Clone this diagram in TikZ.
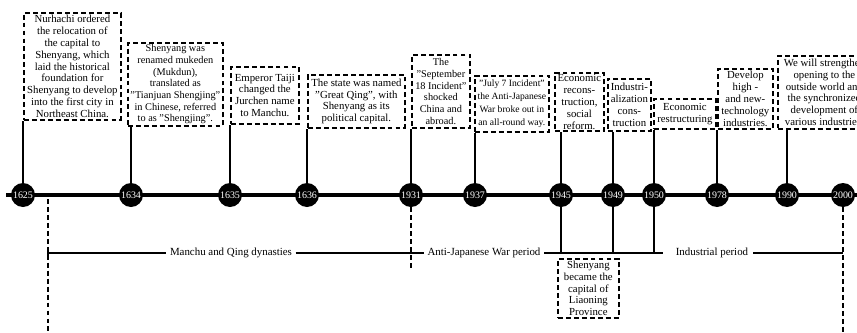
\documentclass[tikz,border=0pt]{standalone}
\usepackage{fontspec}
\setmainfont{Liberation Serif}
\begin{document}
\begin{tikzpicture}[x=0.03cm, y=-0.03cm,
    evt/.style={draw, line width=1.5pt, dash pattern=on 4.2pt off 2.6pt, align=center, inner xsep=0.5pt, inner ysep=1pt, anchor=north west, font=\fontsize{9.2}{10.1}\selectfont},
    yr/.style={circle, fill=black, text=white, minimum size=0.72cm, inner sep=0pt, font=\fontsize{8.5}{9}\selectfont},
    stem/.style={line width=1.6pt},
    era/.style={inner xsep=3pt, inner ysep=0pt, font=\fontsize{9.3}{10}\selectfont},
    eraline/.style={line width=1.5pt},
    gapline/.style={line width=1.5pt, dash pattern=on 4.2pt off 2.6pt}]
    \clip (0,0) rectangle (857,333);

    % time axis
    \coordinate (axl) at (6,195);
    \coordinate (axr) at (857,195);
    \draw[line width=3.8pt] (axl) -- (axr);

    \node[yr] (y1625) at (23,195) {1625};
    \node[yr] (y1634) at (131,195) {1634};
    \node[yr] (y1635) at (230,195) {1635};
    \node[yr] (y1636) at (307,195) {1636};
    \node[yr] (y1931) at (411,195) {1931};
    \node[yr] (y1937) at (475,195) {1937};
    \node[yr] (y1945) at (561,195) {1945};
    \node[yr] (y1949) at (613,195) {1949};
    \node[yr] (y1950) at (654,195) {1950};
    \node[yr] (y1978) at (717,195) {1978};
    \node[yr] (y1990) at (787,195) {1990};
    \node[yr] (y2000) at (843,195) {2000};

    % events
    \node[evt, minimum width=2.91cm, minimum height=3.21cm] (b1) at (23,12) {Nurhachi ordered\\the relocation of\\the capital to\\Shenyang, which\\laid the historical\\foundation for\\Shenyang to develop\\into the first city in\\Northeast China.};
    \node[evt, minimum width=2.85cm, minimum height=2.49cm, font=\fontsize{8.8}{10}\selectfont] (b2) at (127,42) {Shenyang was\\renamed mukeden\\(Mukdun),\\translated as\\"Tianjuan Shengjing"\\in Chinese, referred\\to as "Shengjing".};
    \node[evt, minimum width=2.04cm, minimum height=1.71cm] (b3) at (230,66) {Emperor Taiji\\changed the\\Jurchen name\\to Manchu.};
    \node[evt, minimum width=2.91cm, minimum height=1.59cm] (b4) at (307,74) {The state was named\\"Great Qing", with\\Shenyang as its\\political capital.};
    \node[evt, minimum width=1.74cm, minimum height=2.19cm, font=\fontsize{8.8}{10}\selectfont] (b5) at (411,54) {The\\"September\\18 Incident"\\shocked\\China and\\abroad.};
    \node[evt, minimum width=2.22cm, minimum height=1.68cm, font=\fontsize{8.2}{11.2}\selectfont] (b6) at (474,75) {"July 7 Incident"\\the Anti-Japanese\\War broke out in\\an all-round way.};
    \node[evt, minimum width=1.47cm, minimum height=1.74cm] (b7) at (554,72) {Economic\\recons-\\truction,\\social\\reform.};
    \node[evt, minimum width=1.29cm, minimum height=1.56cm] (b8) at (607,78) {Industri-\\alization\\cons-\\truction};
    \node[evt, minimum width=1.86cm, minimum height=0.90cm] (b9) at (653,98) {Economic\\restructuring};
    \node[evt, minimum width=1.65cm, minimum height=1.80cm] (b10) at (717,68) {Develop\\high -\\and new-\\technology\\industries.};
    \node[evt, minimum width=2.79cm, minimum height=2.19cm] (b11) at (777,55) {We will strengthen\\opening to the\\outside world and\\the synchronized\\development of\\various industries.};
    \node[evt, minimum width=1.83cm, minimum height=1.77cm] (b12) at (557,258) {Shenyang\\became the\\capital of\\Liaoning\\Province};

    % stems up
    \draw[stem] (y1625) -- (y1625 |- b1.south);
    \draw[stem] (y1634) -- (y1634 |- b2.south);
    \draw[stem] (y1635) -- (y1635 |- b3.south);
    \draw[stem] (y1636) -- (y1636 |- b4.south);
    \draw[stem] (y1931) -- (y1931 |- b5.south);
    \draw[stem] (y1937) -- (y1937 |- b6.south);
    \draw[stem] (y1945) -- (y1945 |- b7.south);
    \draw[stem] (y1949) -- (y1949 |- b8.south);
    \draw[stem] (y1950) -- (y1950 |- b9.south);
    \draw[stem] (y1978) -- (y1978 |- b10.south);
    \draw[stem] (y1990) -- (y1990 |- b11.south);

    % periods
    \coordinate (pl) at (48,253);
    \coordinate (pm) at (663,253);
    \coordinate (pr) at (843,253);
    \coordinate (dtop) at (48,199);
    \coordinate (dbot) at (48,333);
    \coordinate (d31) at (411,268);
    \node[era] (manchu) at (231,253) {Manchu and Qing dynasties};
    \node[era] (antij) at (484,253) {Anti-Japanese War period};
    \node[era, inner xsep=4pt] (indus) at (712,253) {Industrial period};

    \draw[eraline] (pl) -- (manchu.west);
    \draw[eraline] (manchu.east) -- (antij.west);
    \draw[eraline] (antij.east) -- (pm);
    \draw[eraline] (indus.east) -- (pr);
    \draw[eraline] (pl) ++(0,-5) -- ++(0,10);

    \draw[stem] (y1945) -- (y1945 |- pl);
    \draw[stem] (y1949) -- (y1949 |- pl);
    \draw[stem] (y1950) -- (y1950 |- pl);

    \draw[gapline] (dtop) -- (dbot);
    \draw[gapline] (y1931) -- (d31);
    \draw[gapline] (y2000) -- (y2000 |- dbot);
\end{tikzpicture}
\end{document}
